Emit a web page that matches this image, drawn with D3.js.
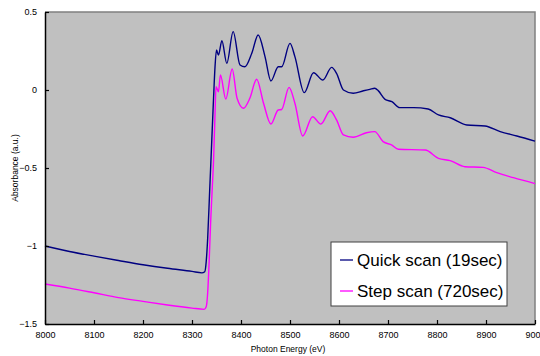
<!DOCTYPE html>
<html><head><meta charset="utf-8">
<script src="https://cdn.jsdelivr.net/npm/d3@7"></script>
<style>body{margin:0;background:#fff}svg{display:block}text{font-family:"Liberation Sans",Arial,sans-serif}</style>
</head><body>
<svg id="c" width="540" height="356"></svg>
<script>
// Quick scan (19sec): photon energy (eV) and absorbance (a.u.)
const quickEnergy = [8000,8050,8100,8150,8200,8250,8300,8320,8326,8329,8332,8336,8340,8344,8347,8350,8354,8361,8371,8384,8398,8408,8422,8435,8449,8461,8476,8483,8500,8510,8529,8548,8567,8585,8595,8609,8629,8650,8663,8673,8680,8694,8708,8724,8752,8782,8803,8827,8861,8898,8929,8963,9000];
const quickAbs    = [-1.0,-1.035,-1.065,-1.093,-1.12,-1.143,-1.163,-1.172,-1.165,-1.10,-0.95,-0.65,-0.35,-0.05,0.15,0.256,0.224,0.316,0.171,0.374,0.160,0.149,0.235,0.353,0.214,0.058,0.149,0.149,0.299,0.214,-0.017,0.111,0.064,0.145,0.107,0.0,-0.021,-0.005,0.004,0.011,-0.004,-0.06,-0.075,-0.113,-0.113,-0.122,-0.16,-0.178,-0.224,-0.231,-0.267,-0.295,-0.328];
// Step scan (720sec)
const stepEnergy = [8000,8050,8100,8150,8200,8250,8300,8325,8329,8332,8335,8338,8341,8344,8347,8349,8354,8358,8369,8382,8392,8405,8418,8432,8446,8461,8476,8483,8498,8510,8526,8546,8563,8582,8595,8609,8629,8656,8673,8690,8708,8721,8776,8803,8827,8857,8894,8922,8956,9000];
const stepAbs    = [-1.244,-1.27,-1.30,-1.331,-1.355,-1.378,-1.398,-1.406,-1.39,-1.30,-1.10,-0.85,-0.65,-0.45,-0.15,0.021,-0.011,0.096,-0.058,0.135,-0.053,-0.117,-0.053,0.069,-0.085,-0.218,-0.128,-0.125,0.017,-0.085,-0.295,-0.171,-0.218,-0.133,-0.192,-0.288,-0.303,-0.274,-0.267,-0.331,-0.353,-0.380,-0.385,-0.438,-0.453,-0.492,-0.496,-0.530,-0.562,-0.600];
const xTicks = [8000,8100,8200,8300,8400,8500,8600,8700,8800,8900,9000];
const yTicks = [0.5,0,-0.5,-1,-1.5];
const seriesNames = ["Quick scan (19sec)","Step scan (720sec)"];
const seriesColors = ["#000080","#FF00FF"];

const svg = d3.select("#c");
const L=45,R=535,T=12,B=324;
const x = d3.scaleLinear().domain([8000,9000]).range([L,R]);
const y = d3.scaleLinear().domain([-1.5,0.5]).range([B,T]);

svg.append("rect").attr("x",L).attr("y",T).attr("width",R-L).attr("height",B-T).attr("fill","#C0C0C0");
svg.append("path").attr("d",`M${L},${T}H${R}V${B}`).attr("fill","none").attr("stroke","#808080").attr("stroke-width",1.5);

const line = d3.line().x(d=>x(d[0])).y(d=>y(d[1])).curve(d3.curveMonotoneX);
const series=[d3.zip(quickEnergy,quickAbs), d3.zip(stepEnergy,stepAbs)];
series.forEach((s,i)=>{
  svg.append("path").datum(s).attr("d",line).attr("fill","none").attr("stroke",seriesColors[i]).attr("stroke-width",1.4);
});

const xa = svg.append("g").attr("transform",`translate(0,${B})`)
  .call(d3.axisBottom(x).tickValues(xTicks).tickSizeInner(-4).tickSizeOuter(0).tickPadding(8).tickFormat(d3.format("d")));
const ya = svg.append("g").attr("transform",`translate(${L},0)`)
  .call(d3.axisLeft(y).tickValues(yTicks).tickSizeInner(-4).tickSizeOuter(0).tickPadding(8).tickFormat(d=>d<0?"−"+(-d):String(d)));
[xa,ya].forEach(a=>{
  a.select(".domain").attr("stroke","#000").attr("stroke-width",1.5);
  a.selectAll(".tick line").attr("stroke","#000").attr("stroke-width",1.2);
  a.selectAll("text").attr("font-size",9).attr("fill","#000").attr("font-family","'Liberation Sans',Arial,sans-serif");
});

svg.append("text").attr("x",288).attr("y",352).attr("text-anchor","middle").attr("font-size",8.5).text("Photon Energy (eV)");
svg.append("text").attr("transform","translate(18,168) rotate(-90)").attr("text-anchor","middle").attr("font-size",8.5).text("Absorbance (a.u.)");

const lg = svg.append("g");
lg.append("rect").attr("x",331).attr("y",242).attr("width",176).attr("height",64).attr("fill","#fff").attr("stroke","#404040").attr("stroke-width",1);
seriesNames.forEach((n,i)=>{
  const yy = 260+i*31;
  lg.append("line").attr("x1",340).attr("x2",353).attr("y1",yy).attr("y2",yy).attr("stroke",seriesColors[i]).attr("stroke-width",1.3);
  lg.append("text").attr("x",357).attr("y",yy).attr("dy","0.35em").attr("font-size",17).text(n);
});
</script>
</body></html>
